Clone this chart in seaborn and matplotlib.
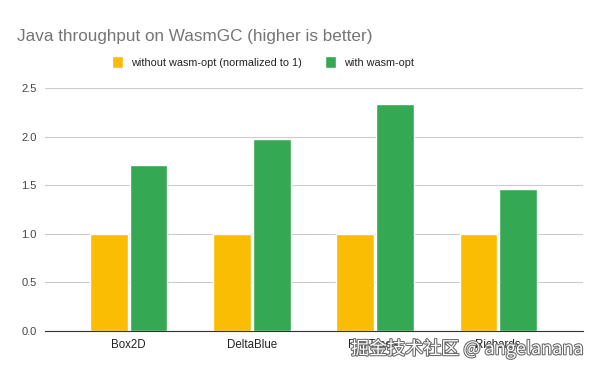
import pandas as pd
import seaborn as sns
import matplotlib.pyplot as plt
import matplotlib.patheffects as pe

# data
benchmarks = ["Box2D", "DeltaBlue", "RayTracer", "Richards"]
without_opt = [1.0, 1.0, 1.0, 1.0]
with_opt = [1.71, 1.97, 2.33, 1.46]
series = ["without wasm-opt (normalized to 1)", "with wasm-opt"]

df = pd.DataFrame({
    "benchmark": benchmarks * 2,
    "value": without_opt + with_opt,
    "series": [series[0]] * 4 + [series[1]] * 4,
})

sns.set_style("white")
plt.rcParams["font.family"] = ["Liberation Sans", "DejaVu Sans"]

fig = plt.figure(figsize=(6, 3.71), dpi=100)
ax = fig.add_axes([0.075, 0.108, 0.897, 0.655])

sns.barplot(data=df, x="benchmark", y="value", hue="series",
            palette=["#fbbc04", "#34a853"], width=0.64, gap=0.04,
            saturation=1, ax=ax)

ax.set_ylim(0, 2.5)
ax.set_xlim(-0.68, 3.69)
ax.set_yticks([0, 0.5, 1.0, 1.5, 2.0, 2.5])
ax.set_yticklabels(["0.0", "0.5", "1.0", "1.5", "2.0", "2.5"])
ax.yaxis.grid(True, color="#cccccc", linewidth=0.8)
ax.set_axisbelow(True)
for s in ["top", "right", "left"]:
    ax.spines[s].set_visible(False)
ax.spines["bottom"].set_color("#333333")
ax.tick_params(axis="y", length=0, labelsize=8, labelcolor="#444444", pad=6)
ax.tick_params(axis="x", length=0, labelsize=8.3, labelcolor="#222222", pad=6)
ax.set_xlabel("")
ax.set_ylabel("")

ax.legend(loc="upper center", bbox_to_anchor=(0.405, 1.17), ncol=2, frameon=False,
          fontsize=7.8, handlelength=1.0, handleheight=1.3, handletextpad=0.7,
          columnspacing=2.2, labelcolor="#222222")

fig.text(0.028, 0.89, "Java throughput on WasmGC (higher is better)",
         fontsize=12.3, color="#757575")

# watermark seen on the reference
wm = fig.text(0.585, 0.045, "掘金技术社区 @ angelanana", fontsize=13,
              color="white", family=["Noto Sans CJK SC", "DejaVu Sans"])
wm.set_path_effects([pe.withStroke(linewidth=1.5, foreground="#666666")])

fig.savefig("out.png", dpi=100)
